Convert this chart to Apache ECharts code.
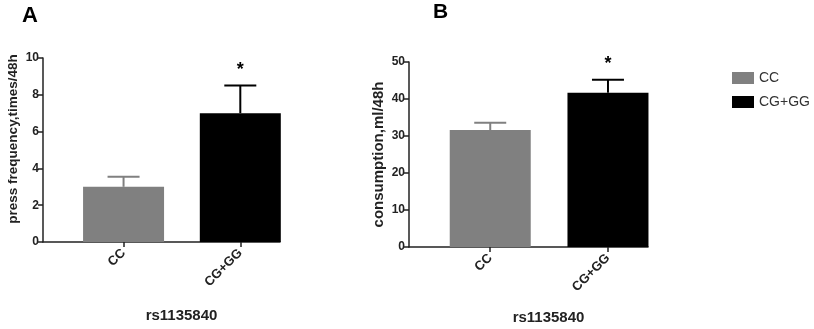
<!DOCTYPE html>
<html>
<head>
<meta charset="utf-8">
<script src="https://cdn.jsdelivr.net/npm/echarts@6/dist/echarts.min.js"></script>
<style>
  html, body { margin: 0; padding: 0; background: #fff; }
  #main { width: 814px; height: 329px; }
</style>
</head>
<body>
<div id="main"></div>
<script>
// data
const categories = ['CC', 'CG+GG'];
const pressMean = [3.0, 7.0];
const pressUpper = [3.55, 8.5];
const consMean = [31.6, 41.7];
const consUpper = [33.6, 45.2];
const sigMarks = ['', '*'];
const barColors = ['#808080', '#000000'];

const mainEl = document.querySelector('#main');
let myChart = echarts.init(mainEl);

const font = 'Arial, "Liberation Sans", sans-serif';

function xAxisOpt(gridIndex, gap) {
    return {
        type: 'value',
        gridIndex: gridIndex,
        min: 0.31,
        max: 2.34,
        splitLine: { show: false },
        axisLine: { onZero: false, lineStyle: { color: '#222', width: 1.5 } },
        axisTick: { inside: false, customValues: [1, 2], length: 5, lineStyle: { color: '#222', width: 1.5 } },
        axisLabel: {
            customValues: [1, 2],
            rotate: 45,
            margin: 9,
            fontFamily: font,
            fontWeight: 'bold',
            fontSize: 13,
            color: '#222',
            formatter: (v) => categories[Math.round(v) - 1] || ''
        },
        name: 'rs1135840',
        nameLocation: 'middle',
        nameGap: gap,
        nameTextStyle: { fontFamily: font, fontWeight: 'bold', fontSize: 15, color: '#222', padding: [0, 0, 0, 40] }
    };
}

function yAxisOpt(gridIndex, max, interval, name, nameSize, namePad) {
    return {
        type: 'value',
        gridIndex: gridIndex,
        min: 0,
        max: max,
        interval: interval,
        splitLine: { show: false },
        axisLine: { show: true, lineStyle: { color: '#222', width: 1.5 } },
        axisTick: { show: true, inside: false, length: 5, lineStyle: { color: '#222', width: 1.5 } },
        axisLabel: { fontFamily: font, fontWeight: 'bold', fontSize: 12, color: '#222', margin: 4 },
        name: name,
        nameLocation: 'middle',
        nameGap: 23,
        nameTextStyle: { fontFamily: font, fontWeight: 'bold', fontSize: nameSize, color: '#222', padding: namePad }
    };
}

function barSeries(gridIndex, means) {
    return categories.map((c, i) => ({
        name: c,
        type: 'bar',
        xAxisIndex: gridIndex,
        yAxisIndex: gridIndex,
        stack: 'g' + gridIndex,
        barWidth: 81,
        itemStyle: { color: barColors[i] },
        data: [[i + 1, means[i]]],
        z: 2
    }));
}

function errorSeries(gridIndex, means, uppers) {
    return {
        type: 'custom',
        xAxisIndex: gridIndex,
        yAxisIndex: gridIndex,
        data: categories.map((c, i) => [i + 1, means[i], uppers[i], i]),
        renderItem: (params, api) => {
            const x = api.value(0);
            const p0 = api.coord([x, api.value(1)]);
            const p1 = api.coord([x, api.value(2)]);
            const idx = api.value(3);
            const col = barColors[idx];
            const half = 16;
            const children = [
                { type: 'line', shape: { x1: p0[0], y1: p0[1], x2: p1[0], y2: p1[1] }, style: { stroke: col, lineWidth: 2 } },
                { type: 'line', shape: { x1: p1[0] - half, y1: p1[1], x2: p1[0] + half, y2: p1[1] }, style: { stroke: col, lineWidth: 2 } }
            ];
            if (sigMarks[idx]) {
                children.push({
                    type: 'text',
                    style: { text: sigMarks[idx], x: p1[0], y: p1[1] - 16, align: 'center', verticalAlign: 'middle', fontSize: 18, fontWeight: 'bold', fontFamily: font, fill: '#000' }
                });
            }
            return { type: 'group', children: children };
        },
        z: 3
    };
}

let option = {
    animation: false,
    grid: [
        { left: 43, top: 58, right: 534, bottom: 87, outerBoundsMode: 'none', containLabel: false },
        { left: 409, top: 62, right: 166, bottom: 82, outerBoundsMode: 'none', containLabel: false }
    ],
    legend: {
        data: categories,
        orient: 'vertical',
        left: 727,
        top: 66,
        itemWidth: 22,
        itemHeight: 12,
        itemGap: 10,
        icon: 'rect',
        textStyle: { fontFamily: font, fontSize: 14, color: '#333' }
    },
    xAxis: [xAxisOpt(0, 66), xAxisOpt(1, 63)],
    yAxis: [
        yAxisOpt(0, 10, 2, 'press frequency,times/48h', 13.5, [0, 0, 0, 22]),
        yAxisOpt(1, 50, 10, 'consumption,ml/48h', 15, 0)
    ],
    graphic: [
        { type: 'text', left: 22, top: 5, style: { text: 'A', fontSize: 22, fontWeight: 'bold', fontFamily: font, fill: '#000' } },
        { type: 'text', left: 433, top: 2, style: { text: 'B', fontSize: 21, fontWeight: 'bold', fontFamily: font, fill: '#000' } }
    ],
    series: [
        ...barSeries(0, pressMean),
        errorSeries(0, pressMean, pressUpper),
        ...barSeries(1, consMean),
        errorSeries(1, consMean, consUpper)
    ]
};

myChart.setOption(option);
</script>
</body>
</html>
